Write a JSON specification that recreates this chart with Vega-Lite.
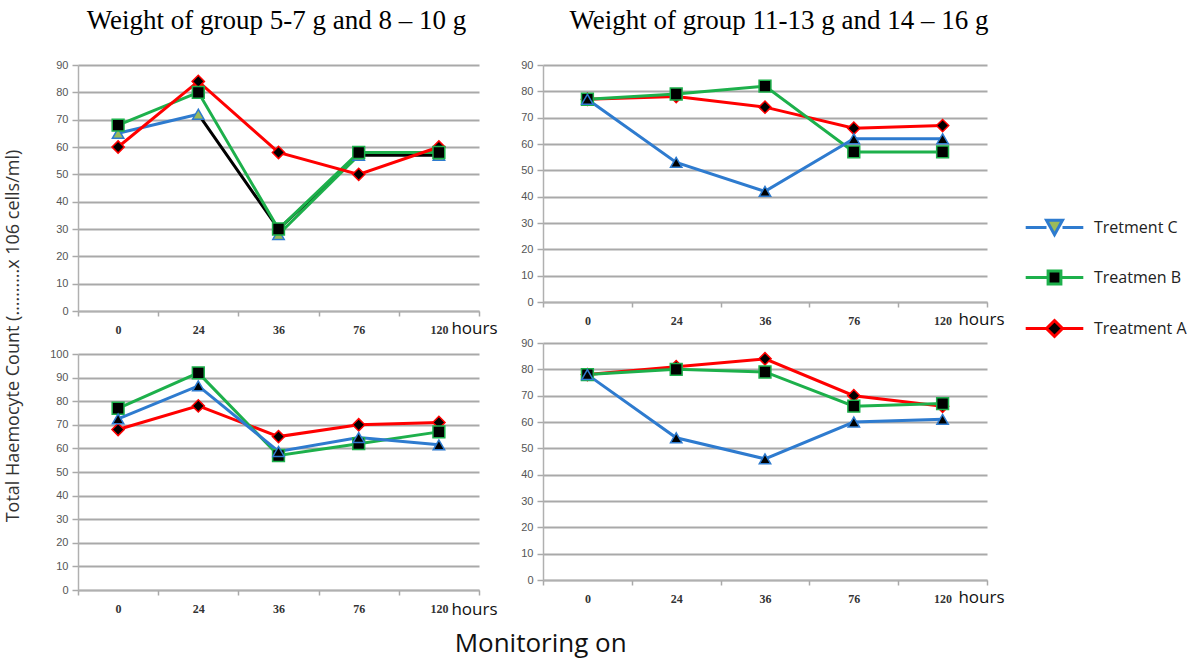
{
  "$schema": "https://vega.github.io/schema/vega-lite/v6.json",
  "padding": {"left": 4, "top": 7, "right": 0, "bottom": 6},
  "background": "white",
  "datasets": {
    "thc": [
      {"p": "TL", "s": "Treatment A", "h": "0", "v": 60},
      {"p": "TL", "s": "Treatment A", "h": "24", "v": 84},
      {"p": "TL", "s": "Treatment A", "h": "36", "v": 58},
      {"p": "TL", "s": "Treatment A", "h": "76", "v": 50},
      {"p": "TL", "s": "Treatment A", "h": "120", "v": 60},
      {"p": "TL", "s": "Tretment C", "h": "0", "v": 65},
      {"p": "TL", "s": "Tretment C", "h": "24", "v": 72},
      {"p": "TL", "s": "Tretment C", "h": "36", "v": 28},
      {"p": "TL", "s": "Tretment C", "h": "76", "v": 57},
      {"p": "TL", "s": "Tretment C", "h": "120", "v": 57},
      {"p": "TL", "s": "Treatmen B", "h": "0", "v": 68},
      {"p": "TL", "s": "Treatmen B", "h": "24", "v": 80},
      {"p": "TL", "s": "Treatmen B", "h": "36", "v": 30},
      {"p": "TL", "s": "Treatmen B", "h": "76", "v": 58},
      {"p": "TL", "s": "Treatmen B", "h": "120", "v": 58},
      {"p": "TL", "s": "Black", "h": "24", "v": 72},
      {"p": "TL", "s": "Black", "h": "36", "v": 30},
      {"p": "TL", "s": "Black", "h": "76", "v": 57},
      {"p": "TL", "s": "Black", "h": "120", "v": 57},

      {"p": "BL", "s": "Treatment A", "h": "0", "v": 68},
      {"p": "BL", "s": "Treatment A", "h": "24", "v": 78},
      {"p": "BL", "s": "Treatment A", "h": "36", "v": 65},
      {"p": "BL", "s": "Treatment A", "h": "76", "v": 70},
      {"p": "BL", "s": "Treatment A", "h": "120", "v": 71},
      {"p": "BL", "s": "Treatmen B", "h": "0", "v": 77},
      {"p": "BL", "s": "Treatmen B", "h": "24", "v": 92},
      {"p": "BL", "s": "Treatmen B", "h": "36", "v": 57},
      {"p": "BL", "s": "Treatmen B", "h": "76", "v": 62},
      {"p": "BL", "s": "Treatmen B", "h": "120", "v": 67},
      {"p": "BL", "s": "Tretment C", "h": "0", "v": 72.5},
      {"p": "BL", "s": "Tretment C", "h": "24", "v": 86.5},
      {"p": "BL", "s": "Tretment C", "h": "36", "v": 58.7},
      {"p": "BL", "s": "Tretment C", "h": "76", "v": 64.6},
      {"p": "BL", "s": "Tretment C", "h": "120", "v": 61.5},

      {"p": "TR", "s": "Treatment A", "h": "0", "v": 77},
      {"p": "TR", "s": "Treatment A", "h": "24", "v": 78},
      {"p": "TR", "s": "Treatment A", "h": "36", "v": 74},
      {"p": "TR", "s": "Treatment A", "h": "76", "v": 66},
      {"p": "TR", "s": "Treatment A", "h": "120", "v": 67},
      {"p": "TR", "s": "Treatmen B", "h": "0", "v": 77},
      {"p": "TR", "s": "Treatmen B", "h": "24", "v": 79},
      {"p": "TR", "s": "Treatmen B", "h": "36", "v": 82},
      {"p": "TR", "s": "Treatmen B", "h": "76", "v": 57},
      {"p": "TR", "s": "Treatmen B", "h": "120", "v": 57},
      {"p": "TR", "s": "Tretment C", "h": "0", "v": 77},
      {"p": "TR", "s": "Tretment C", "h": "24", "v": 53},
      {"p": "TR", "s": "Tretment C", "h": "36", "v": 42},
      {"p": "TR", "s": "Tretment C", "h": "76", "v": 62},
      {"p": "TR", "s": "Tretment C", "h": "120", "v": 62},

      {"p": "BR", "s": "Treatment A", "h": "0", "v": 78},
      {"p": "BR", "s": "Treatment A", "h": "24", "v": 81},
      {"p": "BR", "s": "Treatment A", "h": "36", "v": 84},
      {"p": "BR", "s": "Treatment A", "h": "76", "v": 70},
      {"p": "BR", "s": "Treatment A", "h": "120", "v": 66},
      {"p": "BR", "s": "Treatmen B", "h": "0", "v": 78},
      {"p": "BR", "s": "Treatmen B", "h": "24", "v": 80},
      {"p": "BR", "s": "Treatmen B", "h": "36", "v": 79},
      {"p": "BR", "s": "Treatmen B", "h": "76", "v": 66},
      {"p": "BR", "s": "Treatmen B", "h": "120", "v": 67},
      {"p": "BR", "s": "Tretment C", "h": "0", "v": 78},
      {"p": "BR", "s": "Tretment C", "h": "24", "v": 54},
      {"p": "BR", "s": "Tretment C", "h": "36", "v": 46},
      {"p": "BR", "s": "Tretment C", "h": "76", "v": 60},
      {"p": "BR", "s": "Tretment C", "h": "120", "v": 61}
    ]
  },
  "data": {"name": "thc"},
  "config": {
    "view": {"stroke": null},
    "axisY": {
      "grid": true, "gridColor": "#a9a9a9", "gridWidth": 2,
      "domainColor": "#b0b0b0", "domainWidth": 1.5,
      "tickColor": "#a9a9a9", "tickSize": 6, "tickWidth": 1.5,
      "labelFont": "Liberation Sans", "labelFontSize": 11, "labelColor": "#555555", "labelPadding": 4
    },
    "axisX": {
      "grid": false, "domainColor": "#b0b0b0", "domainWidth": 1.5,
      "tickColor": "#a9a9a9", "tickSize": 5, "tickWidth": 1.5, "tickBand": "extent",
      "labelFont": "Liberation Serif", "labelFontSize": 12, "labelFontWeight": "bold", "labelColor": "#333333", "labelPadding": 8, "labelAngle": 0,
      "titleFont": "Open Sans", "titleFontSize": 17, "titleFontWeight": "normal", "titleColor": "#111111",
      "titleAnchor": "end", "titleAlign": "center", "titleBaseline": "alphabetic"
    },
    "title": {"font": "Liberation Serif", "fontSize": 27, "fontWeight": "normal", "color": "#000000"}
  },
  "title": {"text": "Monitoring on", "orient": "bottom", "anchor": "start", "font": "Open Sans", "fontSize": 26, "fontWeight": "normal", "color": "#111111", "offset": 14, "dx": 450},
  "spacing": 22,
  "resolve": {"legend": {"color": "independent"}},
  "hconcat": [
    {
      "title": {"text": "Total Haemocyte Count (……….x 106 cells/ml)", "orient": "left", "anchor": "middle", "font": "Open Sans", "fontSize": 18, "color": "#333333", "offset": 27, "dx": -24},
      "spacing": 12,
      "resolve": {"legend": {"color": "independent"}},
      "vconcat": [
        {
          "width": 401, "height": 246,
          "title": {"text": "Weight of group 5-7 g and 8 – 10 g", "offset": 24, "dx": -2},
          "transform": [{"filter": "datum.p == 'TL'"}],
          "encoding": {
            "x": {"field": "h", "type": "ordinal", "sort": ["0", "24", "36", "76", "120"], "scale": {"type": "band", "paddingInner": 0, "paddingOuter": 0},
                  "axis": {"title": "hours", "titleX": 396, "titleY": 22}},
            "y": {"field": "v", "type": "quantitative", "scale": {"domain": [0, 90], "nice": false}, "axis": {"title": null, "values": [0, 10, 20, 30, 40, 50, 60, 70, 80, 90]}}
          },
          "layer": [
            {"transform": [{"filter": "datum.s == 'Black'"}], "mark": {"type": "line", "color": "#000000", "strokeWidth": 3}},
            {"transform": [{"filter": "datum.s == 'Treatmen B'"}], "mark": {"type": "line", "strokeWidth": 3},
             "encoding": {"color": {"field": "s", "type": "nominal", "scale": {"domain": ["Tretment C", "Treatmen B", "Treatment A"], "range": ["#2E7BCF", "#1DB04B", "#FF0000"]}, "legend": null}}},
            {"transform": [{"filter": "datum.s == 'Tretment C' && (datum.h == '36' || datum.h == '76')"}], "mark": {"type": "line", "color": "#1DB04B", "strokeWidth": 3}},
            {"transform": [{"filter": "datum.s == 'Tretment C' && (datum.h == '0' || datum.h == '24')"}], "mark": {"type": "line", "color": "#2E7BCF", "strokeWidth": 3}},
            {"transform": [{"filter": "datum.s == 'Treatment A'"}], "mark": {"type": "line", "strokeWidth": 3},
             "encoding": {"color": {"field": "s", "type": "nominal", "scale": {"domain": ["Tretment C", "Treatmen B", "Treatment A"], "range": ["#2E7BCF", "#1DB04B", "#FF0000"]}, "legend": null}}},
            {"transform": [{"filter": "datum.s != 'Black'"}], "mark": {"type": "point", "filled": true, "opacity": 1, "strokeWidth": 1.5},
             "encoding": {
               "shape": {"field": "s", "type": "nominal", "scale": {"domain": ["Tretment C", "Treatmen B", "Treatment A"], "range": ["triangle-up", "square", "diamond"]}, "legend": null},
               "size": {"field": "s", "type": "nominal", "scale": {"domain": ["Tretment C", "Treatmen B", "Treatment A"], "range": [130, 150, 90]}, "legend": null},
               "fill": {"field": "s", "type": "nominal", "scale": {"domain": ["Tretment C", "Treatmen B", "Treatment A"], "range": ["#9BBB59", "#000000", "#000000"]}, "legend": null},
               "stroke": {"field": "s", "type": "nominal", "scale": {"domain": ["Tretment C", "Treatmen B", "Treatment A"], "range": ["#2E7BCF", "#1DB04B", "#FF0000"]}, "legend": null}
             }}
          ]
        },
        {
          "width": 401, "height": 236,
          "transform": [{"filter": "datum.p == 'BL'"}],
          "encoding": {
            "x": {"field": "h", "type": "ordinal", "sort": ["0", "24", "36", "76", "120"], "scale": {"type": "band", "paddingInner": 0, "paddingOuter": 0},
                  "axis": {"title": "hours", "titleX": 396, "titleY": 24}},
            "y": {"field": "v", "type": "quantitative", "scale": {"domain": [0, 100], "nice": false}, "axis": {"title": null, "values": [0, 10, 20, 30, 40, 50, 60, 70, 80, 90, 100]}}
          },
          "layer": [
            {"mark": {"type": "line", "strokeWidth": 3},
             "encoding": {"color": {"field": "s", "type": "nominal", "scale": {"domain": ["Tretment C", "Treatmen B", "Treatment A"], "range": ["#2E7BCF", "#1DB04B", "#FF0000"]}, "legend": null}}},
            {"mark": {"type": "point", "filled": true, "opacity": 1, "strokeWidth": 1.5, "fill": "#000000"},
             "encoding": {
               "shape": {"field": "s", "type": "nominal", "scale": {"domain": ["Tretment C", "Treatmen B", "Treatment A"], "range": ["triangle-up", "square", "diamond"]}, "legend": null},
               "size": {"field": "s", "type": "nominal", "scale": {"domain": ["Tretment C", "Treatmen B", "Treatment A"], "range": [130, 150, 90]}, "legend": null},
               "stroke": {"field": "s", "type": "nominal", "scale": {"domain": ["Tretment C", "Treatmen B", "Treatment A"], "range": ["#2E7BCF", "#1DB04B", "#FF0000"]}, "legend": null}
             }}
          ]
        }
      ]
    },
    {
      "spacing": -8,
      "resolve": {"legend": {"color": "independent"}},
      "vconcat": [
        {
          "width": 444, "height": 237,
          "title": {"text": "Weight of group 11-13 g and 14 – 16 g", "offset": 24, "dx": 14},
          "transform": [{"filter": "datum.p == 'TR'"}],
          "encoding": {
            "x": {"field": "h", "type": "ordinal", "sort": ["0", "24", "36", "76", "120"], "scale": {"type": "band", "paddingInner": 0, "paddingOuter": 0},
                  "axis": {"title": "hours", "titleX": 438, "titleY": 22}},
            "y": {"field": "v", "type": "quantitative", "scale": {"domain": [0, 90], "nice": false}, "axis": {"title": null, "values": [0, 10, 20, 30, 40, 50, 60, 70, 80, 90]}}
          },
          "layer": [
            {"mark": {"type": "line", "strokeWidth": 3},
             "encoding": {"color": {"field": "s", "type": "nominal", "scale": {"domain": ["Tretment C", "Treatmen B", "Treatment A"], "range": ["#2E7BCF", "#1DB04B", "#FF0000"]},
               "legend": {"orient": "none", "legendX": 502, "legendY": 153, "title": null, "labelFont": "Open Sans", "labelFontSize": 16, "labelColor": "#222222", "rowPadding": 24, "symbolSize": 256, "labelOffset": 30, "symbolStrokeWidth": 3,
                 "encode": {"symbols": {"update": {
                   "shape": {"signal": "datum.value === 'Tretment C' ? 'M-3.6,0H-1M1,0H3.6M-1,-0.9H1L0,0.9Z' : datum.value === 'Treatmen B' ? 'M-3.6,0H-0.8M0.8,0H3.6M-0.8,-0.8H0.8V0.8H-0.8Z' : 'M-3.6,0H-1M1,0H3.6M0,-1L1,0L0,1L-1,0Z'"},
                   "fill": {"signal": "datum.value === 'Tretment C' ? '#9BBB59' : '#000000'"},
                   "stroke": {"signal": "datum.value === 'Tretment C' ? '#2E7BCF' : datum.value === 'Treatmen B' ? '#1DB04B' : '#FF0000'"},
                   "strokeWidth": {"value": 3},
                   "opacity": {"value": 1}
                 }}}}}}},
            {"mark": {"type": "point", "filled": true, "opacity": 1, "strokeWidth": 1.5, "fill": "#000000"},
             "encoding": {
               "shape": {"field": "s", "type": "nominal", "scale": {"domain": ["Tretment C", "Treatmen B", "Treatment A"], "range": ["triangle-up", "square", "diamond"]}, "legend": null},
               "size": {"field": "s", "type": "nominal", "scale": {"domain": ["Tretment C", "Treatmen B", "Treatment A"], "range": [130, 150, 90]}, "legend": null},
               "stroke": {"field": "s", "type": "nominal", "scale": {"domain": ["Tretment C", "Treatmen B", "Treatment A"], "range": ["#2E7BCF", "#1DB04B", "#FF0000"]}, "legend": null}
             }}
          ]
        },
        {
          "width": 444, "height": 237,
          "transform": [{"filter": "datum.p == 'BR'"}],
          "encoding": {
            "x": {"field": "h", "type": "ordinal", "sort": ["0", "24", "36", "76", "120"], "scale": {"type": "band", "paddingInner": 0, "paddingOuter": 0},
                  "axis": {"title": "hours", "titleX": 438, "titleY": 22}},
            "y": {"field": "v", "type": "quantitative", "scale": {"domain": [0, 90], "nice": false}, "axis": {"title": null, "values": [0, 10, 20, 30, 40, 50, 60, 70, 80, 90]}}
          },
          "layer": [
            {"mark": {"type": "line", "strokeWidth": 3},
             "encoding": {"color": {"field": "s", "type": "nominal", "scale": {"domain": ["Tretment C", "Treatmen B", "Treatment A"], "range": ["#2E7BCF", "#1DB04B", "#FF0000"]}, "legend": null}}},
            {"mark": {"type": "point", "filled": true, "opacity": 1, "strokeWidth": 1.5, "fill": "#000000"},
             "encoding": {
               "shape": {"field": "s", "type": "nominal", "scale": {"domain": ["Tretment C", "Treatmen B", "Treatment A"], "range": ["triangle-up", "square", "diamond"]}, "legend": null},
               "size": {"field": "s", "type": "nominal", "scale": {"domain": ["Tretment C", "Treatmen B", "Treatment A"], "range": [130, 150, 90]}, "legend": null},
               "stroke": {"field": "s", "type": "nominal", "scale": {"domain": ["Tretment C", "Treatmen B", "Treatment A"], "range": ["#2E7BCF", "#1DB04B", "#FF0000"]}, "legend": null}
             }}
          ]
        }
      ]
    }
  ]
}
